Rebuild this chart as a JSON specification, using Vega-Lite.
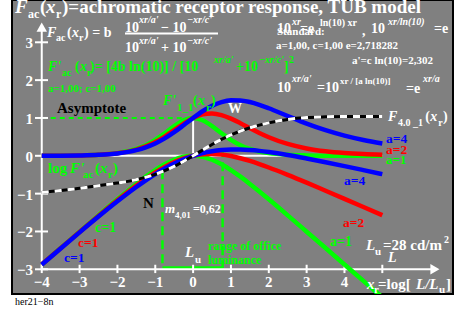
{
"$schema": "https://vega.github.io/schema/vega-lite/v6.json",
"width": 441, "height": 294,
"autosize": {"type": "none"},
"padding": {"left": 12, "top": 0, "right": 4, "bottom": 22},
"background": "#ffffff",
"config": {
  "view": {"fill": "#808080", "stroke": "#000000", "strokeWidth": 2},
  "text": {"font": "Liberation Serif", "fontWeight": "bold", "align": "left", "baseline": "alphabetic"}
},
"datasets": {
  "curves": [
    {"a":"1","k":"lin","x":-4,"y":0.0013},{"a":"1","k":"lin","x":-3.5,"y":0.0036},{"a":"1","k":"lin","x":-3,"y":0.0099},{"a":"1","k":"lin","x":-2.5,"y":0.0266},{"a":"1","k":"lin","x":-2,"y":0.0707},{"a":"1","k":"lin","x":-1.5,"y":0.1807},{"a":"1","k":"lin","x":-1.25,"y":0.2805},{"a":"1","k":"lin","x":-1,"y":0.42},{"a":"1","k":"lin","x":-0.75,"y":0.5966},{"a":"1","k":"lin","x":-0.5,"y":0.7864},{"a":"1","k":"lin","x":-0.25,"y":0.94},{"a":"1","k":"lin","x":0,"y":1},{"a":"1","k":"lin","x":0.25,"y":0.94},{"a":"1","k":"lin","x":0.5,"y":0.7864},{"a":"1","k":"lin","x":0.75,"y":0.5966},{"a":"1","k":"lin","x":1,"y":0.42},{"a":"1","k":"lin","x":1.25,"y":0.2805},{"a":"1","k":"lin","x":1.5,"y":0.1807},{"a":"1","k":"lin","x":1.75,"y":0.1138},{"a":"1","k":"lin","x":2,"y":0.0707},{"a":"1","k":"lin","x":2.5,"y":0.0266},{"a":"1","k":"lin","x":3,"y":0.0099},{"a":"1","k":"lin","x":3.5,"y":0.0036},{"a":"1","k":"lin","x":4,"y":0.0013},{"a":"1","k":"lin","x":4.5,"y":0.0005},{"a":"1","k":"lin","x":5,"y":0.0002},
    {"a":"1","k":"log","x":-4,"y":-2.873},{"a":"1","k":"log","x":-3.5,"y":-2.439},{"a":"1","k":"log","x":-3,"y":-2.006},{"a":"1","k":"log","x":-2.5,"y":-1.575},{"a":"1","k":"log","x":-2,"y":-1.151},{"a":"1","k":"log","x":-1.5,"y":-0.743},{"a":"1","k":"log","x":-1.25,"y":-0.552},{"a":"1","k":"log","x":-1,"y":-0.377},{"a":"1","k":"log","x":-0.75,"y":-0.224},{"a":"1","k":"log","x":-0.5,"y":-0.104},{"a":"1","k":"log","x":-0.25,"y":-0.027},{"a":"1","k":"log","x":0,"y":0},{"a":"1","k":"log","x":0.25,"y":-0.027},{"a":"1","k":"log","x":0.5,"y":-0.104},{"a":"1","k":"log","x":0.75,"y":-0.224},{"a":"1","k":"log","x":1,"y":-0.377},{"a":"1","k":"log","x":1.25,"y":-0.552},{"a":"1","k":"log","x":1.5,"y":-0.743},{"a":"1","k":"log","x":1.75,"y":-0.944},{"a":"1","k":"log","x":2,"y":-1.151},{"a":"1","k":"log","x":2.5,"y":-1.575},{"a":"1","k":"log","x":3,"y":-2.006},{"a":"1","k":"log","x":3.5,"y":-2.439},{"a":"1","k":"log","x":4,"y":-2.873},{"a":"1","k":"log","x":4.5,"y":-3.307},{"a":"1","k":"log","x":5,"y":-3.741},
    {"a":"2","k":"lin","x":-4,"y":0.0013},{"a":"2","k":"lin","x":-3.5,"y":0.0036},{"a":"2","k":"lin","x":-3,"y":0.0097},{"a":"2","k":"lin","x":-2.5,"y":0.0257},{"a":"2","k":"lin","x":-2,"y":0.0665},{"a":"2","k":"lin","x":-1.5,"y":0.163},{"a":"2","k":"lin","x":-1.25,"y":0.2468},{"a":"2","k":"lin","x":-1,"y":0.3619},{"a":"2","k":"lin","x":-0.75,"y":0.5086},{"a":"2","k":"lin","x":-0.5,"y":0.6788},{"a":"2","k":"lin","x":-0.25,"y":0.8522},{"a":"2","k":"lin","x":0,"y":1},{"a":"2","k":"lin","x":0.25,"y":1.0943},{"a":"2","k":"lin","x":0.5,"y":1.1192},{"a":"2","k":"lin","x":0.75,"y":1.0767},{"a":"2","k":"lin","x":1,"y":0.9836},{"a":"2","k":"lin","x":1.25,"y":0.8616},{"a":"2","k":"lin","x":1.5,"y":0.7305},{"a":"2","k":"lin","x":1.75,"y":0.6043},{"a":"2","k":"lin","x":2,"y":0.4912},{"a":"2","k":"lin","x":2.5,"y":0.3134},{"a":"2","k":"lin","x":3,"y":0.1948},{"a":"2","k":"lin","x":3.5,"y":0.1195},{"a":"2","k":"lin","x":4,"y":0.0729},{"a":"2","k":"lin","x":4.5,"y":0.0443},{"a":"2","k":"lin","x":5,"y":0.0269},
    {"a":"2","k":"log","x":-4,"y":-2.874},{"a":"2","k":"log","x":-3.5,"y":-2.443},{"a":"2","k":"log","x":-3,"y":-2.013},{"a":"2","k":"log","x":-2.5,"y":-1.59},{"a":"2","k":"log","x":-2,"y":-1.177},{"a":"2","k":"log","x":-1.5,"y":-0.788},{"a":"2","k":"log","x":-1.25,"y":-0.608},{"a":"2","k":"log","x":-1,"y":-0.442},{"a":"2","k":"log","x":-0.75,"y":-0.294},{"a":"2","k":"log","x":-0.5,"y":-0.168},{"a":"2","k":"log","x":-0.25,"y":-0.07},{"a":"2","k":"log","x":0,"y":0},{"a":"2","k":"log","x":0.25,"y":0.039},{"a":"2","k":"log","x":0.5,"y":0.049},{"a":"2","k":"log","x":0.75,"y":0.032},{"a":"2","k":"log","x":1,"y":-0.007},{"a":"2","k":"log","x":1.25,"y":-0.065},{"a":"2","k":"log","x":1.5,"y":-0.136},{"a":"2","k":"log","x":1.75,"y":-0.219},{"a":"2","k":"log","x":2,"y":-0.309},{"a":"2","k":"log","x":2.5,"y":-0.504},{"a":"2","k":"log","x":3,"y":-0.71},{"a":"2","k":"log","x":3.5,"y":-0.923},{"a":"2","k":"log","x":4,"y":-1.137},{"a":"2","k":"log","x":4.5,"y":-1.353},{"a":"2","k":"log","x":5,"y":-1.57},
    {"a":"4","k":"lin","x":-4,"y":0.0013},{"a":"4","k":"lin","x":-3.5,"y":0.0036},{"a":"4","k":"lin","x":-3,"y":0.0095},{"a":"4","k":"lin","x":-2.5,"y":0.0247},{"a":"4","k":"lin","x":-2,"y":0.0626},{"a":"4","k":"lin","x":-1.5,"y":0.1497},{"a":"4","k":"lin","x":-1.25,"y":0.2244},{"a":"4","k":"lin","x":-1,"y":0.3271},{"a":"4","k":"lin","x":-0.75,"y":0.4609},{"a":"4","k":"lin","x":-0.5,"y":0.6243},{"a":"4","k":"lin","x":-0.25,"y":0.8091},{"a":"4","k":"lin","x":0,"y":1},{"a":"4","k":"lin","x":0.25,"y":1.1772},{"a":"4","k":"lin","x":0.5,"y":1.3218},{"a":"4","k":"lin","x":0.75,"y":1.4196},{"a":"4","k":"lin","x":1,"y":1.4658},{"a":"4","k":"lin","x":1.25,"y":1.4634},{"a":"4","k":"lin","x":1.5,"y":1.4204},{"a":"4","k":"lin","x":1.75,"y":1.348},{"a":"4","k":"lin","x":2,"y":1.2568},{"a":"4","k":"lin","x":2.5,"y":1.0516},{"a":"4","k":"lin","x":3,"y":0.852},{"a":"4","k":"lin","x":3.5,"y":0.6779},{"a":"4","k":"lin","x":4,"y":0.5341},{"a":"4","k":"lin","x":4.5,"y":0.4186},{"a":"4","k":"lin","x":5,"y":0.3271},
    {"a":"4","k":"log","x":-4,"y":-2.878},{"a":"4","k":"log","x":-3.5,"y":-2.449},{"a":"4","k":"log","x":-3,"y":-2.024},{"a":"4","k":"log","x":-2.5,"y":-1.607},{"a":"4","k":"log","x":-2,"y":-1.204},{"a":"4","k":"log","x":-1.5,"y":-0.825},{"a":"4","k":"log","x":-1.25,"y":-0.649},{"a":"4","k":"log","x":-1,"y":-0.485},{"a":"4","k":"log","x":-0.75,"y":-0.336},{"a":"4","k":"log","x":-0.5,"y":-0.205},{"a":"4","k":"log","x":-0.25,"y":-0.092},{"a":"4","k":"log","x":0,"y":0},{"a":"4","k":"log","x":0.25,"y":0.071},{"a":"4","k":"log","x":0.5,"y":0.121},{"a":"4","k":"log","x":0.75,"y":0.152},{"a":"4","k":"log","x":1,"y":0.166},{"a":"4","k":"log","x":1.25,"y":0.165},{"a":"4","k":"log","x":1.5,"y":0.152},{"a":"4","k":"log","x":1.75,"y":0.13},{"a":"4","k":"log","x":2,"y":0.099},{"a":"4","k":"log","x":2.5,"y":0.022},{"a":"4","k":"log","x":3,"y":-0.07},{"a":"4","k":"log","x":3.5,"y":-0.169},{"a":"4","k":"log","x":4,"y":-0.272},{"a":"4","k":"log","x":4.5,"y":-0.378},{"a":"4","k":"log","x":5,"y":-0.485}
  ],
  "fdash": [
    {"x":-4,"y":-0.97},{"x":-3.5,"y":-0.92},{"x":-3,"y":-0.86},{"x":-2.5,"y":-0.79},{"x":-2,"y":-0.72},{"x":-1.5,"y":-0.63},{"x":-1,"y":-0.49},{"x":-0.5,"y":-0.28},{"x":0,"y":0},{"x":0.5,"y":0.3},{"x":1,"y":0.55},{"x":1.5,"y":0.74},{"x":2,"y":0.87},{"x":2.5,"y":0.96},{"x":3,"y":1.01},{"x":3.5,"y":1.03},{"x":4,"y":1.04},{"x":4.5,"y":1.04},{"x":5,"y":1.04}
  ]
},
"encoding": {
  "x": {"field": "x", "type": "quantitative", "scale": {"domain": [-4.786, 6.868], "nice": false, "zero": false}, "axis": null},
  "y": {"field": "y", "type": "quantitative", "scale": {"domain": [-3.653, 4.118], "nice": false, "zero": false}, "axis": null}
},
"layer": [
  {"data": {"values": [{"x":-4,"y":0,"x2":5,"y2":0},{"x":0,"y":0,"x2":0,"y2":1}]},
   "mark": {"type":"rule","color":"#ffffff","strokeWidth":2},
   "encoding": {"x2":{"field":"x2"},"y2":{"field":"y2"}}},
  {"data": {"values": [{"x":-4,"y":1,"x2":0,"y2":1}]},
   "mark": {"type":"rule","color":"#00ff00","strokeWidth":2,"strokeDash":[5,4]},
   "encoding": {"x2":{"field":"x2"},"y2":{"field":"y2"}}},
  {"data": {"values": [{"x":-0.81,"y":-0.38,"x2":-0.81,"y2":-2.966},{"x":0.78,"y":0.2,"x2":0.78,"y2":-2.966}]},
   "mark": {"type":"rule","color":"#00ff00","strokeWidth":2.5,"strokeDash":[9,5]},
   "encoding": {"x2":{"field":"x2"},"y2":{"field":"y2"}}},
  {"data": {"values": [{"x":-0.81,"y":-2.966,"x2":0.78,"y2":-2.966}]},
   "mark": {"type":"rule","color":"#00ff00","strokeWidth":3.5},
   "encoding": {"x2":{"field":"x2"},"y2":{"field":"y2"}}},
  {"data": {"values": [
     {"x":-4,"y":-3,"x2":6.3,"y2":-3},{"x":-4,"y":-3,"x2":-4,"y2":3.3},
     {"x":-4,"y":-2.88,"x2":-4,"y2":-3.1},{"x":-3,"y":-2.88,"x2":-3,"y2":-3.1},{"x":-2,"y":-2.88,"x2":-2,"y2":-3.1},{"x":-1,"y":-2.88,"x2":-1,"y2":-3.1},{"x":0,"y":-2.88,"x2":0,"y2":-3.1},{"x":1,"y":-2.88,"x2":1,"y2":-3.1},{"x":2,"y":-2.88,"x2":2,"y2":-3.1},{"x":3,"y":-2.88,"x2":3,"y2":-3.1},{"x":4,"y":-2.88,"x2":4,"y2":-3.1},{"x":5,"y":-2.88,"x2":5,"y2":-3.1},
     {"x":-4.178,"y":-3,"x2":-3.834,"y2":-3},{"x":-4.178,"y":-2,"x2":-3.834,"y2":-2},{"x":-4.178,"y":-1,"x2":-3.834,"y2":-1},{"x":-4.178,"y":0,"x2":-3.834,"y2":0},{"x":-4.178,"y":1,"x2":-3.834,"y2":1},{"x":-4.178,"y":2,"x2":-3.834,"y2":2},{"x":-4.178,"y":3,"x2":-3.834,"y2":3}
   ]},
   "mark": {"type":"rule","color":"#ffffff","strokeWidth":2},
   "encoding": {"x2":{"field":"x2"},"y2":{"field":"y2"}}},
  {"data": {"values": [{"x":6.39,"y":-3}]},
   "mark": {"type":"point","shape":"triangle-right","filled":true,"color":"#ffffff","opacity":1,"size":110},
   "encoding": {}},
  {"data": {"values": [{"x":-4,"y":3.4}]},
   "mark": {"type":"point","shape":"triangle-up","filled":true,"color":"#ffffff","opacity":1,"size":110},
   "encoding": {}},
  {"data": {"name": "curves"}, "transform": [{"filter": "datum.a == '1' && datum.k == 'lin'"}],
   "mark": {"type":"line","color":"#00ff00","strokeWidth":4.5,"interpolate":"monotone","clip":true},
   "encoding": {}},
  {"data": {"name": "curves"}, "transform": [{"filter": "datum.a == '2' && datum.k == 'lin'"}],
   "mark": {"type":"line","color":"#ff0000","strokeWidth":4.5,"interpolate":"monotone","clip":true},
   "encoding": {}},
  {"data": {"name": "curves"}, "transform": [{"filter": "datum.a == '4' && datum.k == 'lin'"}],
   "mark": {"type":"line","color":"#0000ff","strokeWidth":4.5,"interpolate":"monotone","clip":true},
   "encoding": {}},
  {"data": {"name": "curves"}, "transform": [{"filter": "datum.a == '1' && datum.k == 'log'"}],
   "mark": {"type":"line","color":"#00ff00","strokeWidth":4.5,"interpolate":"monotone","clip":true},
   "encoding": {}},
  {"data": {"name": "curves"}, "transform": [{"filter": "datum.a == '2' && datum.k == 'log'"}],
   "mark": {"type":"line","color":"#ff0000","strokeWidth":4.5,"interpolate":"monotone","clip":true},
   "encoding": {}},
  {"data": {"name": "curves"}, "transform": [{"filter": "datum.a == '4' && datum.k == 'log'"}],
   "mark": {"type":"line","color":"#0000ff","strokeWidth":4.5,"interpolate":"monotone","clip":true},
   "encoding": {}},
  {"data": {"name": "fdash"},
   "mark": {"type":"line","color":"#000000","strokeWidth":3,"interpolate":"monotone"},
   "encoding": {}},
  {"data": {"name": "fdash"},
   "mark": {"type":"line","color":"#ffffff","strokeWidth":3,"strokeDash":[7,6],"interpolate":"monotone"},
   "encoding": {}},
  {"data": {"values": [{"x":-4.046,"y":3.775,"t":"("},{"x":-3.465,"y":3.775,"t":")=achromatic receptor response, TUB model"}]},
   "mark": {"type":"text","color":"#ffffff","fontSize":19}, "encoding": {"text":{"field":"t"}}},
  {"data": {"values": [{"x":-4.706,"y":3.775,"t":"F"},{"x":-3.887,"y":3.775,"t":"x"}]},
   "mark": {"type":"text","color":"#ffffff","fontSize":19,"fontStyle":"italic"}, "encoding": {"text":{"field":"t"}}},
  {"data": {"values": [{"x":-4.363,"y":3.643,"t":"ac"},{"x":-3.623,"y":3.643,"t":"r"},{"x":-0.003,"y":-1.507,"t":"=0,62"}]},
   "mark": {"type":"text","color":"#ffffff","fontSize":12}, "encoding": {"text":{"field":"t"}}},
  {"data": {"values": [
     {"x":-3.332,"y":3.14,"t":"("},{"x":-2.883,"y":3.14,"t":") = b"},
     {"x":-1.8,"y":3.283,"t":"10"},{"x":-0.849,"y":3.283,"t":"− 10"},
     {"x":-1.8,"y":2.744,"t":"10"},{"x":-0.849,"y":2.744,"t":"+ 10"},
     {"x":2.217,"y":3.246,"t":"10"},{"x":2.825,"y":3.246,"t":"=e"},{"x":4.464,"y":3.193,"t":","},{"x":4.701,"y":3.246,"t":"10"},{"x":6.366,"y":3.246,"t":"=e"},
     {"x":2.217,"y":1.687,"t":"10"},{"x":3.274,"y":1.687,"t":"=10"},{"x":5.626,"y":1.66,"t":"=e"},
     {"x":6.132,"y":0.92,"t":"("},{"x":6.607,"y":0.92,"t":")"},
     {"x":0.922,"y":1.131,"t":"W"}
   ]},
   "mark": {"type":"text","color":"#ffffff","fontSize":14}, "encoding": {"text":{"field":"t"}}},
  {"data": {"values": [{"x":-3.861,"y":3.14,"t":"F"},{"x":-3.2,"y":3.14,"t":"x"},{"x":5.151,"y":0.92,"t":"F"},{"x":6.264,"y":0.92,"t":"x"},{"x":5.151,"y":-2.807,"t":"L"}]},
   "mark": {"type":"text","color":"#ffffff","fontSize":14,"fontStyle":"italic"}, "encoding": {"text":{"field":"t"}}},
  {"data": {"values": [{"x":-3.623,"y":3.035,"t":"ac"},{"x":-3.015,"y":3.035,"t":"r"},{"x":3.354,"y":3.431,"t":"ln(10) xr"},{"x":5.415,"y":0.788,"t":"4.0 _1"},{"x":6.475,"y":0.788,"t":"r"},{"x":6.631,"y":-2.305,"t":"2"}]},
   "mark": {"type":"text","color":"#ffffff","fontSize":10}, "encoding": {"text":{"field":"t"}}},
  {"data": {"values": [{"x":-1.43,"y":3.51,"t":"xr/a'"},{"x":-0.161,"y":3.51,"t":"−xr/c'"},{"x":-1.43,"y":2.955,"t":"xr/a'"},{"x":-0.161,"y":2.955,"t":"−xr/c'"},{"x":2.614,"y":3.457,"t":"xr"},{"x":5.151,"y":3.457,"t":"xr/ln(10)"},{"x":2.614,"y":1.951,"t":"xr/a'"},{"x":6.076,"y":1.951,"t":"xr/a"}]},
   "mark": {"type":"text","color":"#ffffff","fontSize":10,"fontStyle":"italic"}, "encoding": {"text":{"field":"t"}}},
  {"data": {"values": [{"x":3.882,"y":1.898,"t":"xr / [a ln(10)]"},{"x":-0.478,"y":-1.639,"t":"4,01"}]},
   "mark": {"type":"text","color":"#ffffff","fontSize":9}, "encoding": {"text":{"field":"t"}}},
  {"data": {"values": [{"x":2.217,"y":3.193,"t":"Standard:"},{"x":2.191,"y":2.823,"t":"a=1,00, c=1,00 e=2,718282"},{"x":4.199,"y":2.427,"t":"a'=c ln(10)=2,302"},{"x":4.806,"y":-2.622,"t":"u"},{"x":0.05,"y":-2.834,"t":"u"},{"x":4.783,"y":-3.627,"t":"r"},{"x":6.499,"y":-3.627,"t":"u"}]},
   "mark": {"type":"text","color":"#ffffff","fontSize":11}, "encoding": {"text":{"field":"t"}}},
  {"data": {"values": [{"x":-1.8,"y":3.233,"x2":0.658,"y2":3.233}]},
   "mark": {"type":"rule","color":"#ffffff","strokeWidth":2},
   "encoding": {"x2":{"field":"x2"},"y2":{"field":"y2"}}},
  {"data": {"values": [{"x":-0.743,"y":-1.507,"t":"m"}]},
   "mark": {"type":"text","color":"#ffffff","fontSize":13,"fontStyle":"italic"}, "encoding": {"text":{"field":"t"}}},
  {"data": {"values": [{"x":5.018,"y":-2.49,"t":"=28 cd/m"},{"x":4.886,"y":-3.521,"t":"=log["},{"x":6.684,"y":-3.521,"t":"]"}]},
   "mark": {"type":"text","color":"#ffffff","fontSize":15}, "encoding": {"text":{"field":"t"}}},
  {"data": {"values": [{"x":4.568,"y":-2.49,"t":"L"},{"x":4.595,"y":-3.521,"t":"x"},{"x":5.89,"y":-3.521,"t":"L/L"},{"x":-0.214,"y":-2.675,"t":"L"}]},
   "mark": {"type":"text","color":"#ffffff","fontSize":15,"fontStyle":"italic"}, "encoding": {"text":{"field":"t"}}},
  {"data": {"values": [{"x":-4,"y":-3.472,"t":"−4"},{"x":-3,"y":-3.472,"t":"−3"},{"x":-2,"y":-3.472,"t":"−2"},{"x":-1,"y":-3.472,"t":"−1"},{"x":0,"y":-3.472,"t":"0"},{"x":1,"y":-3.472,"t":"1"},{"x":2,"y":-3.472,"t":"2"},{"x":3,"y":-3.472,"t":"3"},{"x":4,"y":-3.472,"t":"4"}]},
   "mark": {"type":"text","color":"#ffffff","fontSize":15,"align":"center"},
   "encoding": {"text":{"field":"t"}}},
  {"data": {"values": [{"x":-4.231,"y":3,"t":"3"},{"x":-4.231,"y":2,"t":"2"},{"x":-4.231,"y":1,"t":"1"},{"x":-4.231,"y":0,"t":"0"},{"x":-4.231,"y":-1,"t":"−1"},{"x":-4.231,"y":-2,"t":"−2"},{"x":-4.231,"y":-3,"t":"−3"}]},
   "mark": {"type":"text","color":"#ffffff","fontSize":15,"align":"right","baseline":"middle","dy":1},
   "encoding": {"text":{"field":"t"}}},
  {"data": {"values": [{"x":-3.121,"y":2.242,"t":"("},{"x":-2.725,"y":2.242,"t":")= [4b ln(10)] / [10"},{"x":1.133,"y":2.242,"t":"+10"},{"x":2.402,"y":2.242,"t":"]"},{"x":-0.003,"y":1.343,"t":"("},{"x":0.473,"y":1.343,"t":")"},{"x":3.618,"y":-2.384,"t":"a=1"},{"x":-2.592,"y":-2.025,"t":"c=1"}]},
   "mark": {"type":"text","color":"#00ff00","fontSize":14}, "encoding": {"text":{"field":"t"}}},
  {"data": {"values": [{"x":5.098,"y":-0.217,"t":"a=1"}]},
   "mark": {"type":"text","color":"#00ff00","fontSize":13}, "encoding": {"text":{"field":"t"}}},
  {"data": {"values": [{"x":-3.835,"y":2.242,"t":"F'"},{"x":-2.989,"y":2.242,"t":"x"},{"x":-0.795,"y":1.343,"t":"F'"},{"x":0.129,"y":1.343,"t":"x"}]},
   "mark": {"type":"text","color":"#00ff00","fontSize":14,"fontStyle":"italic"}, "encoding": {"text":{"field":"t"}}},
  {"data": {"values": [{"x":-3.465,"y":2.11,"t":"ac"},{"x":-2.804,"y":2.11,"t":"r"},{"x":2.537,"y":2.453,"t":"2"}]},
   "mark": {"type":"text","color":"#00ff00","fontSize":10}, "encoding": {"text":{"field":"t"}}},
  {"data": {"values": [{"x":0.552,"y":2.466,"t":"xr/a'"},{"x":1.742,"y":2.466,"t":"−xr/c'"}]},
   "mark": {"type":"text","color":"#00ff00","fontSize":10,"fontStyle":"italic"}, "encoding": {"text":{"field":"t"}}},
  {"data": {"values": [{"x":-3.835,"y":1.687,"t":"a=1,00; c=1,00"},{"x":-0.425,"y":1.184,"t":"1_1"},{"x":0.341,"y":1.184,"t":"r"},{"x":-2.91,"y":-0.587,"t":"ac"},{"x":-2.249,"y":-0.587,"t":"r"}]},
   "mark": {"type":"text","color":"#00ff00","fontSize":11}, "encoding": {"text":{"field":"t"}}},
  {"data": {"values": [{"x":-3.835,"y":-0.455,"t":"log"},{"x":-2.592,"y":-0.455,"t":"("},{"x":-2.117,"y":-0.455,"t":")"}]},
   "mark": {"type":"text","color":"#00ff00","fontSize":15}, "encoding": {"text":{"field":"t"}}},
  {"data": {"values": [{"x":-3.25,"y":-0.455,"t":"F'"},{"x":-2.46,"y":-0.455,"t":"x"}]},
   "mark": {"type":"text","color":"#00ff00","fontSize":15,"fontStyle":"italic"}, "encoding": {"text":{"field":"t"}}},
  {"data": {"values": [{"x":0.394,"y":-2.86,"t":"luminance"},{"x":0.394,"y":-2.49,"t":"range of office"}]},
   "mark": {"type":"text","color":"#00ff00","fontSize":12}, "encoding": {"text":{"field":"t"}}},
  {"data": {"values": [{"x":5.098,"y":0.048,"t":"a=2"},{"x":3.961,"y":-1.882,"t":"a=2"},{"x":-3.042,"y":-2.422,"t":"c=1"}]},
   "mark": {"type":"text","color":"#ff0000","fontSize":13.5}, "encoding": {"text":{"field":"t"}}},
  {"data": {"values": [{"x":5.098,"y":0.338,"t":"a=4"},{"x":3.988,"y":-0.772,"t":"a=4"},{"x":-3.412,"y":-2.819,"t":"c=1"}]},
   "mark": {"type":"text","color":"#0000ff","fontSize":13.5}, "encoding": {"text":{"field":"t"}}},
  {"data": {"values": [{"x":-3.597,"y":1.131,"t":"Asymptote"},{"x":-1.324,"y":-1.38,"t":"N"}]},
   "mark": {"type":"text","color":"#000000","fontSize":15}, "encoding": {"text":{"field":"t"}}},
  {"data": {"values": [{"x":-4.706,"y":-3.944,"t":"her21−8n"}]},
   "mark": {"type":"text","color":"#000000","fontSize":10,"fontWeight":"normal"}, "encoding": {"text":{"field":"t"}}}
]
}
